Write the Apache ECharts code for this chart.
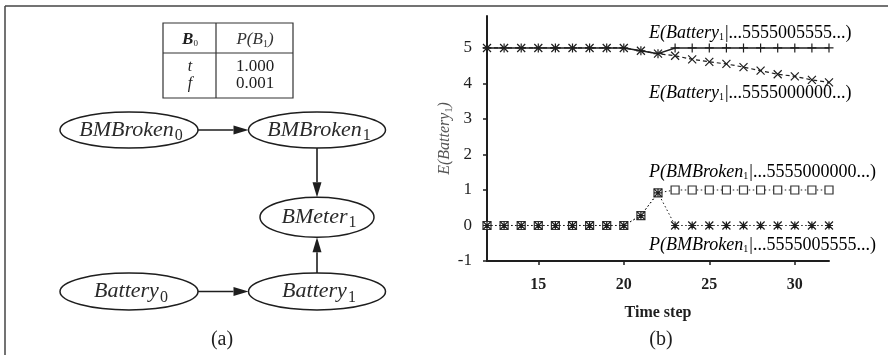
<!DOCTYPE html>
<html><head><meta charset="utf-8">
<script src="https://cdn.jsdelivr.net/npm/echarts@6/dist/echarts.min.js"></script>
<style>html,body{margin:0;padding:0;background:#fff}#c{width:888px;height:355px}</style>
</head><body><div id="c"></div>
<script>
// ---------- data: panel (b) ----------
const timeSteps = [12,13,14,15,16,17,18,19,20,21,22,23,24,25,26,27,28,29,30,31,32];
const eBatteryMixed = [5,5,5,5,5,5,5,5,5,4.92,4.84,5,5,5,5,5,5,5,5,5,5];            // E(Battery1 | ...5555005555...)
const eBatteryZero  = [5,5,5,5,5,5,5,5,5,4.92,4.84,4.78,4.68,4.61,4.55,4.46,4.36,4.26,4.20,4.10,4.03]; // E(Battery1 | ...5555000000...)
const pBrokenZero   = [0,0,0,0,0,0,0,0,0,0.28,0.92,1,1,1,1,1,1,1,1,1,1];               // P(BMBroken1 | ...5555000000...)
const pBrokenMixed  = [0,0,0,0,0,0,0,0,0,0.28,0.92,0,0,0,0,0,0,0,0,0,0];               // P(BMBroken1 | ...5555005555...)
const yTicks = [-1,0,1,2,3,4,5];
const xTicks = [15,20,25,30];
const seriesLabels = [
  {fn:'E', arg:'Battery', sub:'1', tail:'|...5555005555...)'},
  {fn:'E', arg:'Battery', sub:'1', tail:'|...5555000000...)'},
  {fn:'P', arg:'BMBroken', sub:'1', tail:'|...5555000000...)'},
  {fn:'P', arg:'BMBroken', sub:'1', tail:'|...5555005555...)'}
];

// ---------- data: panel (a) ----------
const cptHeader = [['B','0'],['P(B','1',')']];
const cptRows = [['t','1.000'],['f','0.001']];
const nodes = [
  {id:'BMBroken0', base:'BMBroken', sub:'0'},
  {id:'BMBroken1', base:'BMBroken', sub:'1'},
  {id:'BMeter1',   base:'BMeter',   sub:'1'},
  {id:'Battery0',  base:'Battery',  sub:'0'},
  {id:'Battery1',  base:'Battery',  sub:'1'}
];
const edges = [['BMBroken0','BMBroken1'],['BMBroken1','BMeter1'],['Battery1','BMeter1'],['Battery0','Battery1']];

// ---------- layout / style (not data) ----------
const nodeLayout = {BMBroken0:[0,0], BMBroken1:[1,0], BMeter1:[1,1.08], Battery0:[0,2], Battery1:[1,2]};
const nodeSize = {BMBroken0:[138,36], BMBroken1:[137,36], BMeter1:[114,40], Battery0:[138,37], Battery1:[137,37]};
const SERIF = "'Liberation Serif','Times New Roman',serif";
const INK = '#1e1e1e';

const nodeIdx = {}; nodes.forEach((n,i)=>nodeIdx[n.id]=i);

function pairs(vals){ return timeSteps.map((t,i)=>[t, vals[i]]); }

const chart = echarts.init(document.getElementById('c'), null, {renderer:'canvas'});

const symPlus = 'path://M5,0L5,10M0,5L10,5';
const symCross = 'path://M0,0L10,10M10,0L0,10';
const symStar = 'path://M0,0L10,10M10,0L0,10M5,0L5,10M0,5L10,5';
const symSquare = 'path://M0,0H10V10H0Z';

function labelText(l){ return `{i|${l.fn}(${l.arg}}{s|${l.sub}}{n|${l.tail}}`; }
const labelRich = {
  i:{fontFamily:SERIF, fontStyle:'italic', fontSize:18, color:'#444'},
  s:{fontFamily:SERIF, fontSize:10, color:'#555', padding:[9,1,0,0]},
  n:{fontFamily:SERIF, fontSize:18, color:'#666'}
};
const labelY = [33, 93, 172, 245];

const graphics = [
  {type:'line', shape:{x1:5,y1:6,x2:888,y2:6}, style:{stroke:'#444', lineWidth:1.5}},
  {type:'line', shape:{x1:5,y1:6,x2:5,y2:355}, style:{stroke:'#444', lineWidth:1.5}},
  // CPT table
  {type:'rect', shape:{x:163,y:23,width:130,height:75}, style:{fill:'#fff', stroke:'#333', lineWidth:1.2}},
  {type:'line', shape:{x1:216,y1:23,x2:216,y2:98}, style:{stroke:'#333', lineWidth:1.2}},
  {type:'line', shape:{x1:163,y1:53,x2:293,y2:53}, style:{stroke:'#333', lineWidth:1.2}},
  {type:'text', x:190, y:40, style:{text:`{b|${cptHeader[0][0]}}{s|${cptHeader[0][1]}}`, align:'center', verticalAlign:'middle',
     rich:{b:{fontFamily:SERIF, fontStyle:'italic', fontWeight:'bold', fontSize:17, fill:INK}, s:{fontFamily:SERIF, fontSize:9, fill:INK, padding:[8,0,0,0]}}}},
  {type:'text', x:255, y:40, style:{text:`{i|${cptHeader[1][0]}}{s|${cptHeader[1][1]}}{i|${cptHeader[1][2]}}`, align:'center', verticalAlign:'middle',
     rich:{i:{fontFamily:SERIF, fontStyle:'italic', fontSize:17, fill:'#333'}, s:{fontFamily:SERIF, fontSize:10, fill:'#333', padding:[8,0,0,0]}}}},
  ...cptRows.flatMap((r,k)=>[
    {type:'text', x:190, y:67+k*17, style:{text:r[0], align:'center', verticalAlign:'middle', fontFamily:SERIF, fontStyle:'italic', fontSize:16, fill:INK}},
    {type:'text', x:255, y:67+k*17, style:{text:r[1], align:'center', verticalAlign:'middle', fontFamily:SERIF, fontSize:17, fill:INK}}
  ]),
  {type:'text', x:222, y:340, style:{text:'(a)', align:'center', verticalAlign:'middle', fontFamily:SERIF, fontSize:20, fill:INK}},
  {type:'text', x:661, y:340, style:{text:'(b)', align:'center', verticalAlign:'middle', fontFamily:SERIF, fontSize:20, fill:INK}},
  ...seriesLabels.map((l,k)=>({type:'text', x:649, y:labelY[k], style:{text:labelText(l), align:'left', verticalAlign:'middle', rich:labelRich}}))
];

const nodeData = nodes.map((n,i)=>[nodeLayout[n.id][0], nodeLayout[n.id][1], i]);
const edgeData = edges.map(e=>[nodeLayout[e[0]][0], nodeLayout[e[0]][1], nodeLayout[e[1]][0], nodeLayout[e[1]][1], nodeIdx[e[0]], nodeIdx[e[1]]]);

function ellipseReach(size, dx, dy){
  const rx=size[0]/2, ry=size[1]/2;
  return 1/Math.sqrt((dx/rx)*(dx/rx)+(dy/ry)*(dy/ry));
}

const option = {
  animation:false,
  backgroundColor:'#fff',
  graphic: graphics,
  grid:[
    {left:487, top:16, width:342, height:245},
    {left:129, top:130, width:188, height:161.5}
  ],
  xAxis:[
    {gridIndex:0, type:'value', min:12, max:32,
     name:'Time step', nameLocation:'middle', nameGap:44,
     nameTextStyle:{fontFamily:SERIF, fontSize:16, fontWeight:'bold', color:INK},
     axisLine:{show:true, onZero:false, lineStyle:{color:INK, width:2}},
     axisTick:{show:true, customValues:xTicks, length:4, lineStyle:{color:INK, width:1.5}},
     axisLabel:{customValues:xTicks, fontFamily:SERIF, fontSize:16, fontWeight:'bold', color:INK, margin:16},
     splitLine:{show:false}},
    {gridIndex:1, type:'value', min:0, max:1, show:false}
  ],
  yAxis:[
    {gridIndex:0, type:'value', min:-1, max:5.9,
     name:'{i|E(Battery}{s|1}{i|)}', nameLocation:'middle', nameRotate:90, nameGap:31,
     nameTextStyle:{rich:{i:{fontFamily:SERIF, fontStyle:'italic', fontSize:16, color:'#555'}, s:{fontFamily:SERIF, fontSize:10, color:'#555', padding:[8,0,0,0]}}},
     axisLine:{show:true, onZero:false, lineStyle:{color:INK, width:2}},
     axisTick:{show:true, customValues:yTicks, length:4, lineStyle:{color:INK, width:1.5}},
     axisLabel:{customValues:yTicks, fontFamily:SERIF, fontSize:17, color:INK, margin:15},
     splitLine:{show:false}},
    {gridIndex:1, type:'value', min:0, max:2, inverse:true, show:false}
  ],
  series:[
    {type:'line', name:'E mixed', xAxisIndex:0, yAxisIndex:0, data:pairs(eBatteryMixed), showAllSymbol:true,
     symbol:symPlus, symbolSize:9, lineStyle:{color:INK, width:1.5, type:'solid'},
     itemStyle:{color:INK, borderColor:INK, borderWidth:1.2}, z:3},
    {type:'line', name:'E zero', xAxisIndex:0, yAxisIndex:0, data:pairs(eBatteryZero), showAllSymbol:true,
     symbol:symCross, symbolSize:8, lineStyle:{color:INK, width:1.2, type:[4,3]},
     itemStyle:{color:INK, borderColor:INK, borderWidth:1.2}, z:3},
    {type:'line', name:'P zero', xAxisIndex:0, yAxisIndex:0, data:pairs(pBrokenZero), showAllSymbol:true,
     symbol:symSquare, symbolSize:8, lineStyle:{color:INK, width:1, type:[1.5,2.5]},
     itemStyle:{color:'#fff', borderColor:'#333', borderWidth:1.2}, z:3},
    {type:'line', name:'P mixed', xAxisIndex:0, yAxisIndex:0, data:pairs(pBrokenMixed), showAllSymbol:true,
     symbol:symStar, symbolSize:8, lineStyle:{color:INK, width:1, type:[1.5,2.5]},
     itemStyle:{color:INK, borderColor:INK, borderWidth:1.2}, z:4},
    {type:'custom', name:'edges', xAxisIndex:1, yAxisIndex:1, coordinateSystem:'cartesian2d', clip:false,
     encode:{x:[0,2], y:[1,3]}, data:edgeData, z:5,
     renderItem:function(params, api){
       const a = api.coord([api.value(0), api.value(1)]);
       const b = api.coord([api.value(2), api.value(3)]);
       const fa = nodes[api.value(4)].id, fb = nodes[api.value(5)].id;
       let dx=b[0]-a[0], dy=b[1]-a[1]; const L=Math.sqrt(dx*dx+dy*dy); dx/=L; dy/=L;
       const ta = ellipseReach(nodeSize[fa], dx, dy), tb = ellipseReach(nodeSize[fb], dx, dy);
       const s=[a[0]+dx*ta, a[1]+dy*ta], e=[b[0]-dx*tb, b[1]-dy*tb];
       const al=15, aw=4.5;
       const base=[e[0]-dx*al, e[1]-dy*al];
       return {type:'group', children:[
         {type:'line', shape:{x1:s[0],y1:s[1],x2:base[0],y2:base[1]}, style:{stroke:INK, lineWidth:1.6}},
         {type:'polygon', shape:{points:[e,[base[0]-dy*aw, base[1]+dx*aw],[base[0]+dy*aw, base[1]-dx*aw]]}, style:{fill:INK}}
       ]};
     }},
    {type:'custom', name:'nodes', xAxisIndex:1, yAxisIndex:1, coordinateSystem:'cartesian2d', clip:false,
     encode:{x:0, y:1}, data:nodeData, z:6,
     renderItem:function(params, api){
       const n = nodes[api.value(2)];
       const p = api.coord([api.value(0), api.value(1)]);
       const sz = nodeSize[n.id];
       return {type:'group', children:[
         {type:'ellipse', shape:{cx:p[0], cy:p[1], rx:sz[0]/2, ry:sz[1]/2}, style:{fill:'#fff', stroke:INK, lineWidth:1.5}},
         {type:'text', x:p[0]+2, y:p[1], style:{text:`{m|${n.base}}{s|${n.sub}}`, align:'center', verticalAlign:'middle',
           rich:{m:{fontFamily:SERIF, fontStyle:'italic', fontSize:22, fill:'#2a2a2a'}, s:{fontFamily:SERIF, fontSize:16, fill:'#2a2a2a', padding:[12,0,0,1]}}}}
       ]};
     }}
  ]
};
chart.setOption(option);
</script>
</body></html>
